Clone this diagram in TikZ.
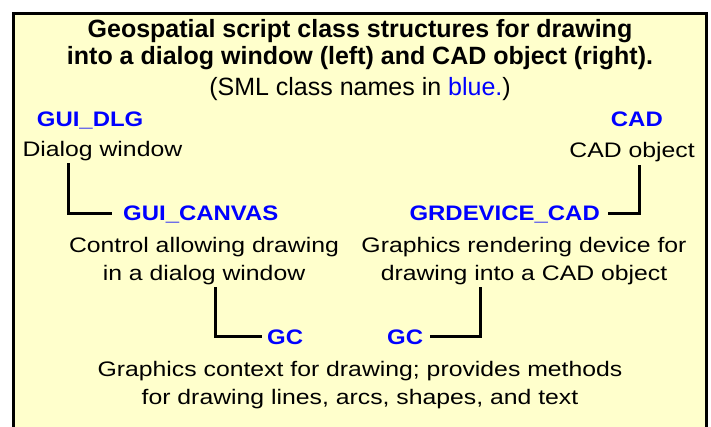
\documentclass[tikz,border=0pt]{standalone}
\usepackage{fontspec}
\setmainfont{Liberation Sans}
\newfontfamily\bodyfont[FakeStretch=1.18]{Liberation Sans}
\newfontfamily\labelfont[FakeStretch=1.14]{Liberation Sans}
\definecolor{panel}{HTML}{FFFFCC}
\definecolor{smlblue}{HTML}{0000FF}
\begin{document}
\begin{tikzpicture}[x=1pt,y=-1pt,
  headline/.style={inner sep=0pt, anchor=base, font=\fontsize{25}{30}\selectfont\bfseries},
  subline/.style={inner sep=0pt, anchor=base, font=\fontsize{25}{30}\selectfont},
  classname/.style={inner sep=0pt, text=smlblue, font=\labelfont\fontsize{21}{25}\selectfont\bfseries},
  desc/.style={inner sep=0pt, font=\bodyfont\fontsize{21}{25}\selectfont},
  link/.style={line width=3pt, draw=black}]

\useasboundingbox (0,0) rectangle (711,426);
\fill[white] (0,0) rectangle (711,426);
\draw[line width=3pt, fill=panel] (13.5,13.5) rectangle (706.5,450);

% heading
\node[headline] (t1) at (360,37) {Geospatial script class structures for drawing};
\node[headline] (t2) at (360,64) {into a dialog window (left) and CAD object (right).};
\node[subline]  (t3) at (360,95) {(SML class names in \textcolor{smlblue}{blue.})};

% dialog side
\node[classname, anchor=base west] (dlg) at (36.7,126.7) {GUI\_DLG};
\node[desc, anchor=base west] (dlgtxt) at (22.3,156.7) {Dialog window};
\node[classname, anchor=base west] (canvas) at (123,220.7) {GUI\_CANVAS};
\node[desc, anchor=base] (ctrlA) at (204,252) {Control allowing drawing};
\node[desc, anchor=base] (ctrlB) at (204,280) {in a dialog window};

% CAD side
\node[classname, anchor=base east] (cad) at (663,126.7) {CAD};
\node[desc, anchor=base east] (cadtxt) at (695,157) {CAD object};
\node[classname, anchor=base east] (grdev) at (600,220.7) {GRDEVICE\_CAD};
\node[desc, anchor=base] (rendA) at (524,252) {Graphics rendering device for};
\node[desc, anchor=base] (rendB) at (524,280) {drawing into a CAD object};

% graphics context
\node[classname, anchor=base west] (gcL) at (267,344) {GC};
\node[classname, anchor=base west] (gcR) at (387,344) {GC};
\node[desc, anchor=base] (gcA) at (360,376) {Graphics context for drawing; provides methods};
\node[desc, anchor=base] (gcB) at (360,404) {for drawing lines, arcs, shapes, and text};

% connectors
\draw[link] ([xshift=45.7pt,yshift=-6.3pt]dlgtxt.base west) |- ([xshift=-11pt,yshift=7.5pt]canvas.base west);
\draw[link] ([xshift=-56pt,yshift=-8pt]cadtxt.base east) |- ([xshift=8pt,yshift=7.5pt]grdev.base east);
\draw[link] ([xshift=11pt,yshift=-7pt]ctrlB.base) |- ([xshift=-5pt,yshift=7.5pt]gcL.base west);
\draw[link] ([xshift=7pt,yshift=7.5pt]gcR.base east) -| ([xshift=-44pt,yshift=-7pt]rendB.base);
\end{tikzpicture}
\end{document}
